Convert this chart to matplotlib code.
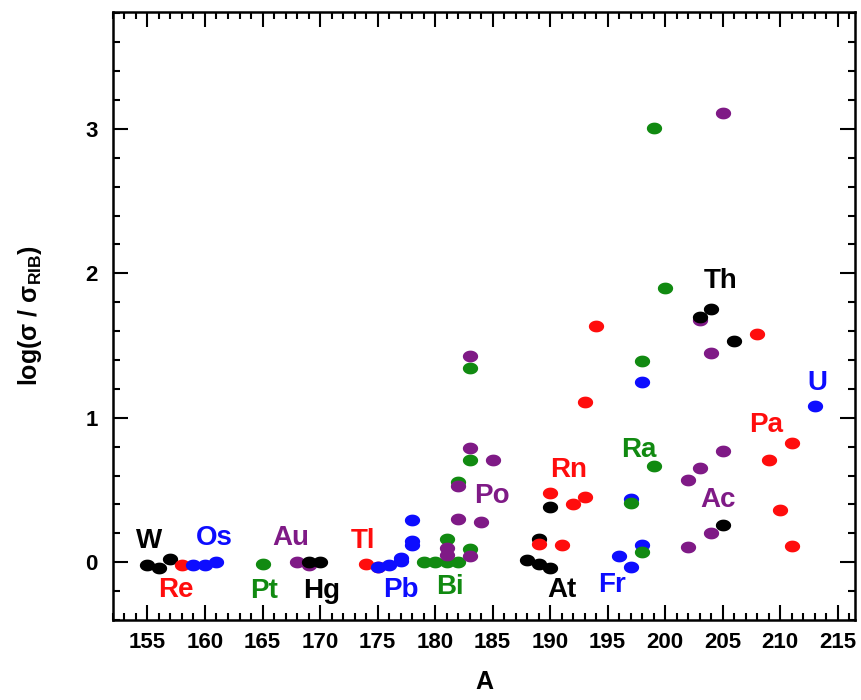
import numpy as np
import matplotlib
matplotlib.use("Agg")
import matplotlib.pyplot as plt
from matplotlib.path import Path
from matplotlib.ticker import MultipleLocator

plt.rcParams['font.family'] = ['Liberation Sans', 'DejaVu Sans']
plt.rcParams['mathtext.fontset'] = 'custom'
plt.rcParams['mathtext.rm'] = 'Liberation Sans'
plt.rcParams['mathtext.bf'] = 'Liberation Sans:bold'

# element data: mass number A, log(sigma / sigma_RIB)
elements = ['W', 'Re', 'Os', 'Pt', 'Au', 'Hg', 'Tl', 'Pb', 'Bi', 'Po',
            'At', 'Rn', 'Fr', 'Ra', 'Ac', 'Th', 'Pa', 'U']
colors = {'k': '#000000', 'r': '#ff0d0d', 'b': '#0d0dff', 'g': '#118a11', 'p': '#7f1a86'}
el_color = ['k', 'r', 'b', 'g', 'p', 'k', 'r', 'b', 'g', 'p',
            'k', 'r', 'b', 'g', 'p', 'k', 'r', 'b']

A_W,  y_W  = [155, 156, 157], [-0.02, -0.04, 0.02]
A_Re, y_Re = [158], [-0.02]
A_Os, y_Os = [159, 160, 161], [-0.02, -0.02, 0.0]
A_Pt, y_Pt = [165], [-0.01]
A_Au, y_Au = [168, 169], [0.0, -0.02]
A_Hg, y_Hg = [169, 170], [0.0, 0.0]
A_Tl, y_Tl = [174, 175], [-0.01, -0.03]
A_Pb, y_Pb = [175, 176, 177, 177, 178, 178, 178], [-0.03, -0.02, 0.01, 0.03, 0.12, 0.15, 0.29]
A_Bi, y_Bi = [179, 180, 181, 182, 181, 183, 182, 183, 183], [0.0, 0.0, 0.0, 0.0, 0.16, 0.09, 0.555, 0.71, 1.345]
A_Po, y_Po = [181, 181, 183, 182, 184, 182, 183, 185, 183], [0.05, 0.095, 0.04, 0.30, 0.28, 0.525, 0.79, 0.71, 1.43]
A_At, y_At = [188, 189, 190, 189, 190], [0.014, -0.01, -0.037, 0.16, 0.38]
A_Rn, y_Rn = [189, 190, 191, 192, 193, 193, 194], [0.125, 0.48, 0.12, 0.40, 0.45, 1.11, 1.635]
A_Fr, y_Fr = [196, 197, 198, 197, 198], [0.04, -0.03, 0.12, 0.44, 1.25]
A_Ra, y_Ra = [197, 198, 199, 198, 200, 199], [0.41, 0.07, 0.665, 1.39, 1.90, 3.005]
A_Ac, y_Ac = [202, 204, 202, 203, 205, 204, 203, 205], [0.105, 0.20, 0.57, 0.65, 0.77, 1.45, 1.675, 3.11]
A_Th, y_Th = [205, 203, 204, 206], [0.26, 1.70, 1.75, 1.53]
A_Pa, y_Pa = [209, 210, 211, 211, 208], [0.71, 0.36, 0.825, 0.11, 1.58]
A_U,  y_U  = [213], [1.08]

series = [(A_W, y_W), (A_Re, y_Re), (A_Os, y_Os), (A_Pt, y_Pt), (A_Au, y_Au),
          (A_Hg, y_Hg), (A_Tl, y_Tl), (A_Pb, y_Pb), (A_Bi, y_Bi), (A_Po, y_Po),
          (A_At, y_At), (A_Rn, y_Rn), (A_Fr, y_Fr), (A_Ra, y_Ra), (A_Ac, y_Ac),
          (A_Th, y_Th), (A_Pa, y_Pa), (A_U, y_U)]

# label positions (A, y) for element names
label_A = [155.1, 157.5, 160.8, 165.1, 167.5, 170.1, 173.75, 177.0, 181.3, 184.9,
           191.0, 191.6, 195.4, 197.7, 204.6, 204.8, 208.8, 213.2]
label_y = [0.145, -0.19, 0.17, -0.2, 0.17, -0.2, 0.145, -0.19, -0.17, 0.46,
           -0.19, 0.64, -0.16, 0.78, 0.43, 1.95, 0.95, 1.24]

# horizontal ellipse marker
t = np.linspace(0, 2 * np.pi, 60)
ellipse = Path(np.column_stack([np.cos(t), 0.77 * np.sin(t)]), closed=True)

fig = plt.figure(figsize=(8.61, 7.0), dpi=100)
ax = fig.add_axes([0.1312, 0.1143, 0.8618, 0.8687])

for (A, y), c in zip(series, el_color):
    ax.plot(A, y, ls='none', marker=ellipse, ms=11, color=colors[c], mec='none')

for name, c, xa, ya in zip(elements, el_color, label_A, label_y):
    ax.text(xa, ya, name, color=colors[c], fontsize=20, fontweight='bold',
            ha='center', va='center')

ax.set_xlim(152, 216.5)
ax.set_ylim(-0.4, 3.81)
ax.xaxis.set_major_locator(MultipleLocator(5))
ax.xaxis.set_minor_locator(MultipleLocator(1))
ax.yaxis.set_major_locator(MultipleLocator(1))
ax.yaxis.set_minor_locator(MultipleLocator(0.2))
ax.tick_params(which='both', direction='in', top=True, right=True, width=1.5)
ax.tick_params(which='major', length=11)
ax.tick_params(which='minor', length=5)
ax.tick_params(axis='x', pad=9)
ax.tick_params(axis='y', pad=11)
for lab in ax.get_xticklabels() + ax.get_yticklabels():
    lab.set_fontweight('bold')
    lab.set_fontsize(16)
for sp in ax.spines.values():
    sp.set_linewidth(1.8)

ax.set_xlabel('A', fontsize=18, fontweight='bold', labelpad=12)
ax.set_ylabel('log(σ / σ$_{\\mathbf{RIB}}$)', fontsize=18,
              fontweight='bold', labelpad=30)

fig.savefig('out.png', dpi=100)
